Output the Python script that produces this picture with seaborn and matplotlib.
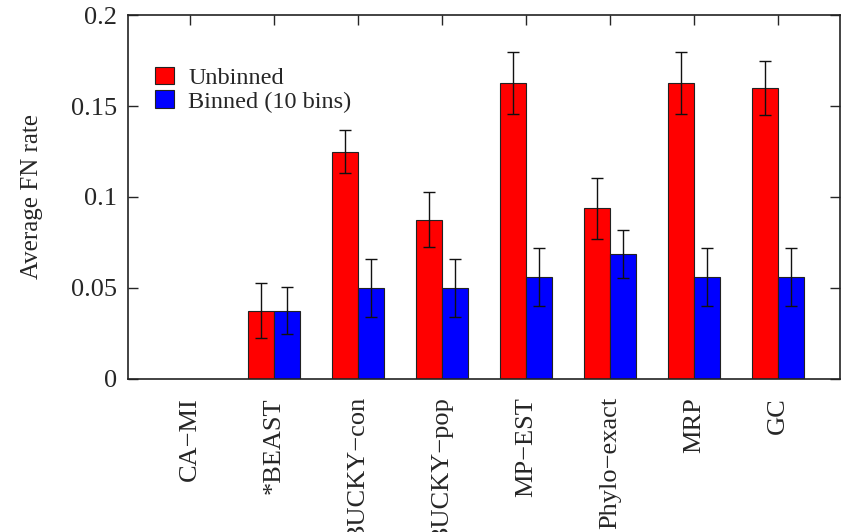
import numpy as np
import pandas as pd
import matplotlib
matplotlib.use('Agg')
import matplotlib.pyplot as plt
import seaborn as sns
from matplotlib.patches import Patch

methods = ['CA\u2212MI', '*BEAST', 'BUCKY\u2212con', 'BUCKY\u2212pop',
           'MP\u2212EST', 'Phylo\u2212exact', 'MRP', 'GC']
series = ['Unbinned', 'Binned (10 bins)']
unbinned = [np.nan, 0.0375, 0.125, 0.0875, 0.1625, 0.0937, 0.1625, 0.160]
binned = [np.nan, 0.0375, 0.050, 0.050, 0.0562, 0.0687, 0.0562, 0.0562]
unbinned_err = [np.nan, 0.015, 0.012, 0.015, 0.017, 0.017, 0.017, 0.015]
binned_err = [np.nan, 0.013, 0.016, 0.016, 0.016, 0.013, 0.016, 0.016]
colors = ['#ff0000', '#0000ff']

df = pd.DataFrame({
    'method': methods * 2,
    'series': [series[0]] * len(methods) + [series[1]] * len(methods),
    'value': unbinned + binned,
    'err': unbinned_err + binned_err,
})

sns.set_style('ticks')
plt.rcParams['font.family'] = ['Liberation Serif', 'DejaVu Serif']

fig = plt.figure(figsize=(8.46, 5.32), dpi=100)
ax = fig.add_axes([0.151, 0.2876, 0.842, 0.6842])

sns.barplot(data=df, x='method', y='value', hue='series', order=methods,
            hue_order=series, palette=colors, width=0.62, gap=0,
            errorbar=None, edgecolor='#222222', linewidth=0.8,
            saturation=1, ax=ax, legend=False)

# error bars on top of the bars
for cont, s in zip(ax.containers, series):
    sub = df[df['series'] == s].set_index('method')
    for bar in cont:
        h = bar.get_height()
        if np.isnan(h):
            continue
        xc = bar.get_x() + bar.get_width() / 2
        m = methods[int(round(xc))]
        ax.errorbar(xc, h, yerr=sub.loc[m, 'err'], fmt='none', ecolor='#111111',
                    elinewidth=1.0, capsize=4.5, capthick=1.0)

ax.set_xlim(-0.74, 7.74)
ax.set_ylim(0, 0.2)
ax.set_yticks([0, 0.05, 0.1, 0.15, 0.2])
ax.set_yticklabels(['0', '0.05', '0.1', '0.15', '0.2'])
ax.set_xticks(range(len(methods)))
ax.set_xticklabels(methods, rotation=90, va='top', ha='center')
ax.set_xlabel('')
ax.set_ylabel('Average FN rate', fontsize=18, labelpad=20)

ax.tick_params(axis='y', direction='in', left=True, right=True, length=7,
               width=1, labelsize=19, pad=8)
ax.tick_params(axis='x', direction='in', top=True, bottom=False, length=7,
               width=1, labelsize=19, pad=13)
for sp in ax.spines.values():
    sp.set_visible(True)
    sp.set_linewidth(1.2)
    sp.set_color('#222222')

handles = [Patch(facecolor=c, edgecolor='#222222', linewidth=0.8) for c in colors]
ax.legend(handles, series, loc='upper left', bbox_to_anchor=(0.025, 0.885),
          frameon=False, fontsize=17.5, handlelength=0.75, handleheight=0.75,
          handletextpad=0.6, labelspacing=0.05, borderaxespad=0)

fig.savefig('out.png', dpi=100)
plt.close(fig)
